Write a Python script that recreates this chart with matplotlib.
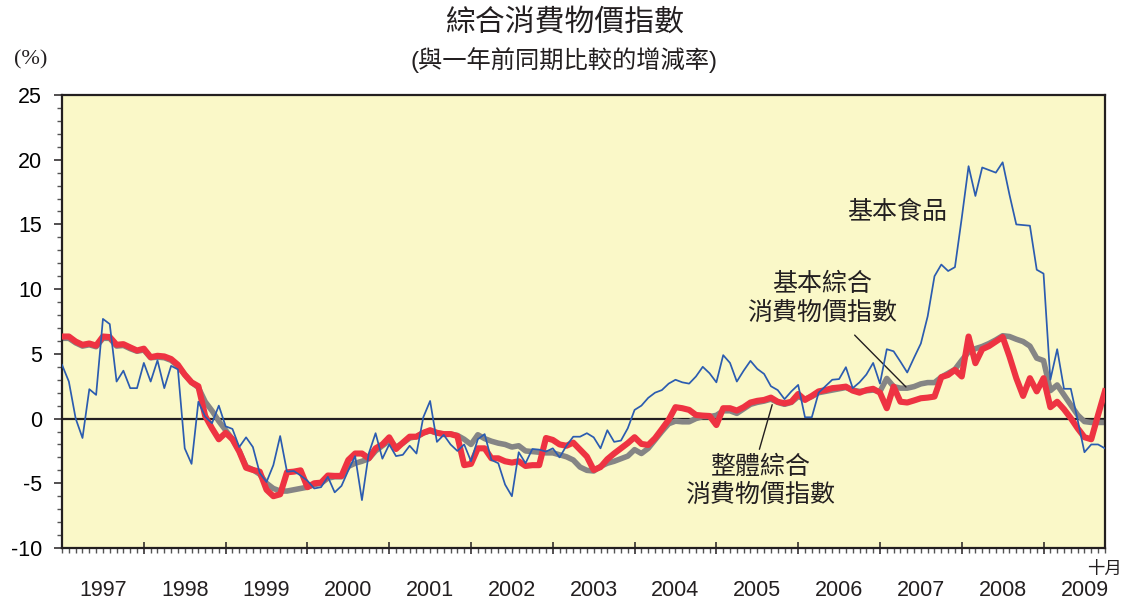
"""Composite CPI chart: year-on-year change, Jan 1997 - Oct 2009."""

import matplotlib
matplotlib.use("Agg")
import matplotlib.pyplot as plt
from matplotlib.ticker import FixedLocator, MultipleLocator

plt.rcParams["font.family"] = ["Liberation Sans", "Noto Sans CJK TC", "DejaVu Sans"]

# ── data (monthly, Jan 1997 .. Oct 2009) ──────────────────────────────────
years = list(range(1997, 2010))

basic_food = [
    4.15, 2.86, 0.0, -1.5, 2.27, 1.83, 7.7, 7.3, 2.86, 3.7, 2.35, 2.35,
    4.3, 2.86, 4.5, 2.35, 4.07, 3.8, -2.3, -3.5, 1.3, 0.15, -0.36, 1.0,
    -0.6, -0.8, -2.2, -1.45, -2.2, -4.2, -4.9, -3.6, -1.35, -4.1, -4.05, -4.4,
    -4.8, -5.4, -5.3, -4.5, -5.7, -5.2, -4.0, -2.9, -6.3, -2.7, -1.13, -3.1,
    -2.0, -2.9, -2.8, -2.1, -2.7, 0.1, 1.36, -1.8, -1.26, -2.0, -2.5, -2.0,
    -3.3, -1.6, -1.2, -3.2, -3.45, -5.1, -6.0, -2.6, -3.45, -2.35, -2.4, -2.55,
    -2.3, -3.0, -2.1, -1.4, -1.4, -1.13, -1.45, -2.3, -0.9, -1.8, -1.7, -0.75,
    0.67, 1.0, 1.6, 2.0, 2.2, 2.7, 3.0, 2.8, 2.7, 3.25, 4.0, 3.5,
    2.8, 4.9, 4.3, 2.86, 3.7, 4.46, 3.84, 3.45, 2.5, 2.2, 1.5, 2.1,
    2.6, 0.1, 0.1, 2.0, 2.5, 3.0, 3.05, 3.97, 2.35, 2.8, 3.4, 4.3,
    2.7, 5.36, 5.2, 4.4, 3.56, 4.7, 5.8, 7.9, 11.0, 11.9, 11.4, 11.7,
    15.5, 19.5, 17.2, 19.4, 19.2, 19.0, 19.8, 17.3, 15.0, 14.95, 14.9, 11.5,
    11.2, 3.0, 5.36, 2.3, 2.3, -0.1, -2.6, -2.0, -2.0, -2.3,
]

headline_cpi = [
    6.34, 6.34, 5.95, 5.7, 5.8, 5.64, 6.34, 6.3, 5.7, 5.75, 5.5, 5.26,
    5.4, 4.74, 4.85, 4.8, 4.6, 4.15, 3.4, 2.8, 2.5, 0.2, -0.75, -1.6,
    -1.1, -1.6, -2.55, -3.8, -3.97, -4.1, -5.5, -6.0, -5.85, -4.15, -4.1, -4.0,
    -5.3, -5.0, -4.95, -4.4, -4.43, -4.43, -3.2, -2.7, -2.7, -3.07, -2.3, -2.0,
    -1.45, -2.35, -1.86, -1.4, -1.4, -1.1, -0.9, -1.1, -1.2, -1.2, -1.35, -3.6,
    -3.5, -2.3, -2.3, -3.07, -3.07, -3.3, -3.4, -3.3, -3.66, -3.6, -3.6, -1.5,
    -1.65, -2.0, -2.1, -1.86, -2.4, -2.94, -3.97, -3.75, -3.14, -2.7, -2.3, -1.9,
    -1.44, -1.96, -2.04, -1.52, -0.82, -0.1, 0.88, 0.8, 0.67, 0.28, 0.23, 0.2,
    -0.5, 0.8, 0.8, 0.62, 0.88, 1.24, 1.37, 1.44, 1.62, 1.3, 1.18, 1.3,
    1.9, 1.44, 1.75, 2.1, 2.2, 2.35, 2.4, 2.47, 2.16, 2.0, 2.2, 2.3,
    2.0, 0.8, 2.47, 1.3, 1.24, 1.4, 1.57, 1.62, 1.7, 3.2, 3.37, 3.76,
    3.25, 6.34, 4.28, 5.36, 5.6, 5.95, 6.3, 4.8, 3.12, 1.75, 3.12, 2.1,
    3.12, 0.88, 1.3, 0.72, 0.03, -0.75, -1.44, -1.6, 0.28, 2.1,
]

underlying_cpi = [
    6.2, 6.2, 5.85, 5.6, 5.7, 5.55, 6.2, 6.2, 5.6, 5.65, 5.4, 5.2,
    5.3, 4.7, 4.75, 4.7, 4.5, 4.05, 3.4, 2.8, 2.4, 1.3, 0.6, -0.2,
    -0.9, -1.6, -2.5, -3.7, -3.95, -4.3, -5.0, -5.4, -5.6, -5.6, -5.5, -5.4,
    -5.3, -5.1, -5.0, -4.6, -4.5, -4.5, -3.7, -3.45, -3.3, -3.1, -2.5, -2.1,
    -1.7, -2.2, -1.9, -1.5, -1.4, -1.1, -0.95, -1.1, -1.2, -1.2, -1.3, -1.6,
    -2.0, -1.25, -1.55, -1.75, -1.9, -2.0, -2.2, -2.1, -2.5, -2.55, -2.6, -2.65,
    -2.65, -2.8, -2.95, -3.2, -3.75, -4.0, -4.05, -3.7, -3.45, -3.3, -3.1, -2.9,
    -2.4, -2.7, -2.3, -1.65, -1.0, -0.4, -0.2, -0.25, -0.25, 0.0, 0.15, 0.15,
    0.25, 0.6, 0.6, 0.4, 0.75, 1.1, 1.25, 1.35, 1.5, 1.25, 1.1, 1.25,
    1.7, 1.5, 1.7, 2.0, 2.1, 2.2, 2.3, 2.4, 2.2, 2.1, 2.15, 2.2,
    2.1, 3.1, 2.47, 2.35, 2.35, 2.47, 2.68, 2.78, 2.78, 3.2, 3.5, 3.8,
    4.5, 5.15, 5.4, 5.57, 5.8, 6.08, 6.4, 6.34, 6.13, 5.95, 5.6, 4.67,
    4.48, 2.16, 2.6, 1.83, 1.06, 0.28, -0.23, -0.3, -0.3, -0.3,
]

y_ticks = [25, 20, 15, 10, 5, 0, -5, -10]

BG = "#faf8c8"
RED = "#ee3342"
GREY = "#858585"
BLUE = "#2b5cb0"
INK = "#231f20"


def main():
    months = list(range(len(headline_cpi)))

    fig = plt.figure(figsize=(11.24, 6.02), dpi=100)
    ax = fig.add_axes([0.0552, 0.0897, 0.9278, 0.7525])
    ax.set_facecolor(BG)

    ax.axhline(0, color=INK, linewidth=1.6, zorder=1)
    ax.plot(months, underlying_cpi, color=GREY, linewidth=4.0,
            solid_joinstyle="round", zorder=2)
    ax.plot(months, headline_cpi, color=RED, linewidth=4.4,
            solid_joinstyle="round", zorder=3)
    ax.plot(months, basic_food, color=BLUE, linewidth=1.25, zorder=4)

    ax.set_xlim(0, len(months) - 1)
    ax.set_ylim(-10, 25)

    # y axis
    ax.yaxis.set_major_locator(FixedLocator(y_ticks))
    ax.yaxis.set_minor_locator(MultipleLocator(1))
    ax.set_yticklabels([str(v) for v in y_ticks])
    ax.tick_params(axis="y", which="major", direction="out", length=5.5,
                   width=1.1, color=INK, labelsize=15.5, pad=9)
    ax.tick_params(axis="y", which="minor", direction="out", length=3.5,
                   width=1.0, color="#555555")
    ax.tick_params(axis="y", right=False)

    # x axis: year boundaries + monthly minor ticks
    ax.xaxis.set_major_locator(FixedLocator([12 * k for k in range(1, len(years))]))
    ax.xaxis.set_minor_locator(MultipleLocator(1))
    ax.tick_params(axis="x", which="major", direction="inout", length=8,
                   width=1.1, color=INK, labelbottom=False)
    ax.tick_params(axis="x", which="minor", direction="out", length=3.5,
                   width=1.0, color="#555555")
    for k, yr in enumerate(years):
        ax.text(12 * k + 6, -0.093, str(yr), transform=ax.get_xaxis_transform(),
                ha="center", va="center", fontsize=15.5, color=INK)
    ax.text(len(months) - 1, -0.046, "十月", transform=ax.get_xaxis_transform(),
            ha="center", va="center", fontsize=12.5, color=INK)

    for sp in ax.spines.values():
        sp.set_color(INK)
        sp.set_linewidth(1.6)

    # labels
    ax.text(122.5, 15.95, "基本食品", ha="center", va="center",
            fontsize=18, color=INK)
    ax.text(111.5, 9.3, "基本綜合\n消費物價指數", ha="center", va="center",
            fontsize=18, color=INK, linespacing=1.25)
    ax.annotate("", xy=(124.1, 2.29), xytext=(116.0, 6.6),
                arrowprops=dict(arrowstyle="-", color=INK, linewidth=1.0))
    ax.text(102.4, -4.8, "整體綜合\n消費物價指數", ha="center", va="center",
            fontsize=18, color=INK, linespacing=1.25)
    ax.annotate("", xy=(104.3, 1.28), xytext=(102.2, -2.58),
                arrowprops=dict(arrowstyle="-", color=INK, linewidth=1.0))

    fig.text(0.502, 0.963, "綜合消費物價指數", ha="center", va="center",
             fontsize=21.5, color=INK)
    fig.text(0.502, 0.900, "(與一年前同期比較的增減率)", ha="center", va="center",
             fontsize=17.5, color=INK)
    fig.text(0.027, 0.900, "(%)", ha="center", va="center", fontsize=16,
             color=INK, family="Liberation Serif")

    fig.savefig("out.png", dpi=100, facecolor="white")
    plt.close(fig)


if __name__ == "__main__":
    main()
